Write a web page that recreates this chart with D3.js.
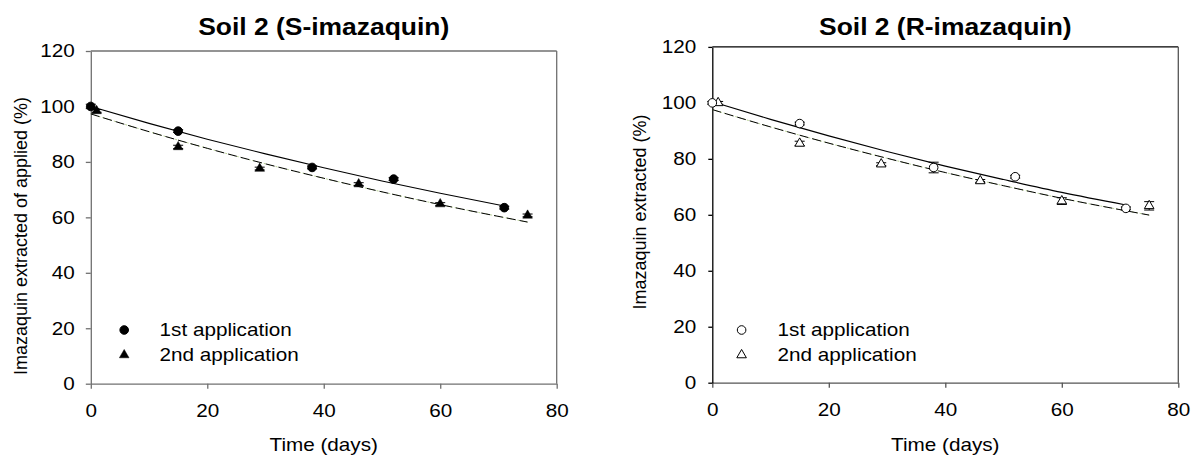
<!DOCTYPE html>
<html>
<head>
<meta charset="utf-8">
<script src="https://cdn.jsdelivr.net/npm/d3@7"></script>
<style>
  body { margin: 0; background: #fff; }
  svg { display: block; font-family: "Liberation Sans", Arial, sans-serif; }
</style>
</head>
<body>
<script>
// tick values shared by both panels
var xTicks = [0, 20, 40, 60, 80];
var yTicks = [0, 20, 40, 60, 80, 100, 120];

// Soil 2, S-imazaquin
var sDays1 = [0, 15, 38, 52, 71];
var sFirst = [100, 91.1, 78.0, 73.8, 63.5];
var sErr1 = [0.8, 0.5, 0.5, 0.5, 0.5];
var sDays2 = [1, 15, 29, 46, 60, 75];
var sSecond = [98.4, 85.4, 77.6, 72.0, 64.8, 60.7];
var sErr2 = [0.5, 0.6, 0.5, 0.5, 0.5, 0.5];
var sFitDays1 = [0, 10, 20, 30, 40, 50, 60, 71];
var sFit1 = [100, 93.9, 88.2, 82.9, 77.9, 73.1, 68.7, 64.1];
var sFitDays2 = [0, 10, 20, 30, 40, 50, 60, 75];
var sFit2 = [97.3, 90.9, 84.9, 79.3, 74.1, 69.2, 64.6, 58.3];

// Soil 2, R-imazaquin
var rDays1 = [0, 15, 38, 52, 71];
var rFirst = [100, 92.6, 76.9, 73.6, 62.3];
var rErr1 = [0.5, 0.5, 1.9, 0.5, 0.5];
var rDays2 = [1, 15, 29, 46, 60, 75];
var rSecond = [100, 85.5, 78.1, 72.1, 64.9, 63.2];
var rErr2 = [0.5, 0.8, 0.5, 0.5, 1.2, 1.5];
var rFitDays1 = [0, 10, 20, 30, 40, 50, 60, 71];
var rFit1 = [100.4, 94.1, 88.2, 82.6, 77.4, 72.6, 68.0, 63.5];
var rFitDays2 = [0, 10, 20, 30, 40, 50, 60, 75];
var rFit2 = [97.6, 91.4, 85.6, 80.2, 75.1, 70.4, 65.9, 59.9];

var legendLabels = ["1st application", "2nd application"];

var svg = d3.select("body").append("svg")
    .attr("width", 1195)
    .attr("height", 459);

var stretch = 1.15;

// text in the figure is a little wider than its height would suggest
function widen(sel) {
  sel.each(function() {
    var t = d3.select(this);
    var x = +t.attr("x") || 0, y = +t.attr("y") || 0;
    t.attr("transform", "translate(" + x + "," + y + ") scale(" + stretch + ",1) translate(" + (-x) + "," + (-y) + ")");
  });
}

function zip(a, b, e) {
  return a.map(function(d, i) { return {t: d, v: b[i], e: e ? e[i] : 0}; });
}

function panel(o) {
  var x = d3.scaleLinear().domain([0, 80]).range([o.left, o.right]);
  var y = d3.scaleLinear().domain([0, 120]).range([o.bottom, o.top]);
  var g = svg.append("g");

  // frame
  g.append("line").attr("x1", o.left).attr("x2", o.right).attr("y1", o.top).attr("y2", o.top)
      .attr("stroke", o.topColor).attr("stroke-width", 1.3);
  g.append("line").attr("x1", o.right).attr("x2", o.right).attr("y1", o.top).attr("y2", o.bottom)
      .attr("stroke", o.rightColor).attr("stroke-width", 1.3);

  var xAxis = g.append("g")
      .attr("transform", "translate(0," + o.bottom + ")")
      .call(d3.axisBottom(x).tickValues(xTicks).tickSize(5).tickPadding(16).tickSizeOuter(0));
  var yAxis = g.append("g")
      .attr("transform", "translate(" + o.left + ",0)")
      .call(d3.axisLeft(y).tickValues(yTicks).tickSize(o.ytick).tickPadding(o.ypad).tickSizeOuter(0));

  xAxis.select(".domain").attr("stroke", o.bottomColor).attr("stroke-width", 1.3);
  xAxis.selectAll(".tick line").attr("stroke", o.bottomColor).attr("stroke-width", 1.3);
  yAxis.select(".domain").attr("stroke", o.leftColor).attr("stroke-width", 1.3);
  yAxis.selectAll(".tick line").attr("stroke", o.leftColor).attr("stroke-width", 1.3);
  g.selectAll(".tick text")
      .attr("font-size", 18)
      .attr("font-family", "Liberation Sans, Arial, sans-serif")
      .attr("fill", "#000")
      .call(widen);

  // fitted curves
  var line = d3.line()
      .x(function(d) { return x(d.t); })
      .y(function(d) { return y(d.v); })
      .curve(d3.curveMonotoneX);

  var fit2 = zip(o.fitDays2, o.fit2);
  g.append("path").datum(fit2).attr("d", line)
      .attr("fill", "none").attr("stroke", "#a9c97c").attr("stroke-width", 0.8)
      .attr("stroke-dasharray", "2,2");
  g.append("path").datum(fit2).attr("d", line)
      .attr("fill", "none").attr("stroke", "#000").attr("stroke-width", 1)
      .attr("stroke-dasharray", "9,4");
  g.append("path").datum(zip(o.fitDays1, o.fit1)).attr("d", line)
      .attr("fill", "none").attr("stroke", "#000").attr("stroke-width", 1.1);

  var tri = d3.symbol().type(d3.symbolTriangle).size(40);
  var fill = o.open ? "#fff" : "#000";

  function errorBars(data) {
    var eb = g.append("g").selectAll("g").data(data).enter().append("g");
    eb.append("line")
        .attr("x1", function(d) { return x(d.t); }).attr("x2", function(d) { return x(d.t); })
        .attr("y1", function(d) { return y(d.v - d.e); }).attr("y2", function(d) { return y(d.v + d.e); })
        .attr("stroke", "#000");
    eb.selectAll(".cap").data(function(d) { return [d.v - d.e, d.v + d.e].map(function(v) { return {t: d.t, v: v}; }); })
      .enter().append("line")
        .attr("x1", function(d) { return x(d.t) - 5; }).attr("x2", function(d) { return x(d.t) + 5; })
        .attr("y1", function(d) { return y(d.v); }).attr("y2", function(d) { return y(d.v); })
        .attr("stroke", "#000");
  }

  var d2 = zip(o.days2, o.second, o.err2);
  var d1 = zip(o.days1, o.first, o.err1);
  errorBars(d2);
  errorBars(d1);

  g.selectAll(".tri").data(d2).enter().append("path")
      .attr("d", tri)
      .attr("transform", function(d) { return "translate(" + x(d.t) + "," + y(d.v) + ")"; })
      .attr("fill", fill).attr("stroke", "#000").attr("stroke-width", o.open ? 1 : 0.5);

  g.selectAll(".dot").data(d1).enter().append("circle")
      .attr("cx", function(d) { return x(d.t); })
      .attr("cy", function(d) { return y(d.v); })
      .attr("r", 4.3)
      .attr("fill", fill).attr("stroke", "#000").attr("stroke-width", 1);

  // legend
  var lg = g.append("g");
  lg.append("circle").attr("cx", o.legX).attr("cy", 330).attr("r", 4.3)
      .attr("fill", fill).attr("stroke", "#000").attr("stroke-width", 1);
  lg.append("path").attr("d", tri)
      .attr("transform", "translate(" + o.legX + ",355)")
      .attr("fill", fill).attr("stroke", "#000").attr("stroke-width", o.open ? 1 : 0.5);
  lg.selectAll("text").data(legendLabels).enter().append("text")
      .attr("x", o.legTextX)
      .attr("y", function(d, i) { return 336.5 + i * 25; })
      .attr("font-size", 18)
      .text(function(d) { return d; })
      .call(widen);

  // titles
  var cx = (o.left + o.right) / 2;
  g.append("text")
      .attr("x", cx).attr("y", 35)
      .attr("text-anchor", "middle")
      .attr("font-size", 23).attr("font-weight", "bold")
      .text(o.title)
      .call(widen);
  g.append("text")
      .attr("x", cx).attr("y", 451)
      .attr("text-anchor", "middle")
      .attr("font-size", 18)
      .text("Time (days)")
      .call(widen);
  g.append("text")
      .attr("transform", "translate(" + o.yTitleX + "," + o.yTitleY + ") rotate(-90)")
      .attr("text-anchor", "middle")
      .attr("font-size", 18)
      .text(o.yTitle);
}

panel({
  left: 90.8, right: 556.7, top: 51, bottom: 383.7,
  topColor: "#707070", rightColor: "#707070", bottomColor: "#707070", leftColor: "#707070",
  ytick: 5, ypad: 11,
  title: "Soil 2 (S-imazaquin)",
  yTitle: "Imazaquin extracted of applied (%)", yTitleX: 27, yTitleY: 236,
  days1: sDays1, first: sFirst, err1: sErr1,
  days2: sDays2, second: sSecond, err2: sErr2,
  fitDays1: sFitDays1, fit1: sFit1, fitDays2: sFitDays2, fit2: sFit2,
  open: false, legX: 124.2, legTextX: 159.6
});

panel({
  left: 712.3, right: 1178.3, top: 46.9, bottom: 382.7,
  topColor: "#000", rightColor: "#555", bottomColor: "#555", leftColor: "#000",
  ytick: 4, ypad: 12,
  title: "Soil 2 (R-imazaquin)",
  yTitle: "Imazaquin extracted (%)", yTitleX: 646, yTitleY: 212,
  days1: rDays1, first: rFirst, err1: rErr1,
  days2: rDays2, second: rSecond, err2: rErr2,
  fitDays1: rFitDays1, fit1: rFit1, fitDays2: rFitDays2, fit2: rFit2,
  open: true, legX: 741.6, legTextX: 777.6
});
</script>
</body>
</html>
